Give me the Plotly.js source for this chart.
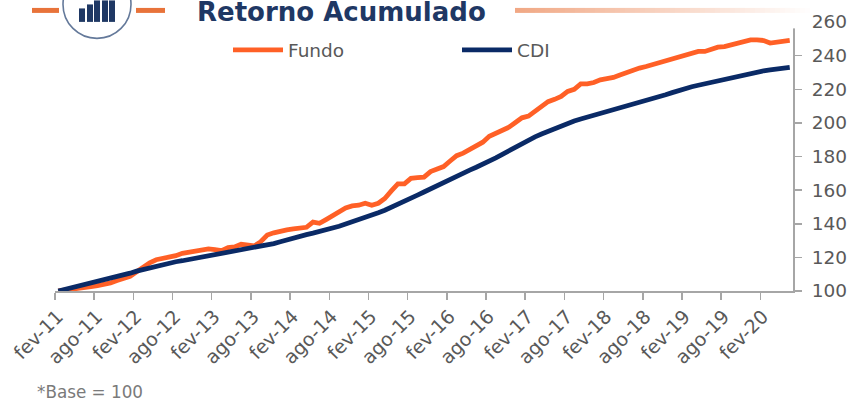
<!DOCTYPE html>
<html>
<head>
<meta charset="utf-8">
<script src="https://cdn.plot.ly/plotly-3.0.1.min.js"></script>
<style>html,body{margin:0;padding:0;background:#fff}#c{width:851px;height:401px}</style>
</head>
<body>
<div id="c"></div>
<script>
const tickLabels = ["fev-11","ago-11","fev-12","ago-12","fev-13","ago-13","fev-14","ago-14","fev-15","ago-15","fev-16","ago-16","fev-17","ago-17","fev-18","ago-18","fev-19","ago-19","fev-20"];
const yTicks = [100,120,140,160,180,200,220,240,260];
const fundo = [100,100.4,100.9,101.4,102,102.6,103.2,103.9,104.8,106.2,107.4,108.8,111.5,
114.5,116.8,118.6,119.2,119.8,121,122.4,123,123.6,124.4,125,124.6,124,125.8,126.2,127.8,127.4,126.8,
129.3,133.3,134.6,135.7,136.4,136.9,137.2,137.9,141,140.3,142.5,144.6,147.2,149.4,150.6,151,152.2,151,
152.2,155,159.5,163.7,163.7,167,167.4,167.7,171,172.5,174,177.3,180.5,182,184,186.4,188.5,192,193.9,195.6,
197.4,200.2,203,204,207,210.5,212.6,214,215.7,218.7,220,223.2,223.2,224,225.6,226.3,227,228.5,230,231.3,
232.6,233.5,234.6,236,237,238.2,239.5,240.6,241.6,242.5,242.5,244,245,245.4,246.5,247.5,248.8,249.4,249.4,
249,247.5,248,248.6,249];
const cdi = [100,100.9,101.8,102.7,103.6,104.5,105.5,106.5,107.4,108.4,109.5,110.6,111.8,
112.8,113.8,114.7,115.6,116.6,117.4,118,118.7,119.3,120,120.7,121.4,
122,122.7,123.3,124,124.7,125.4,126.3,127.2,128.2,129.3,130.5,131.7,
132.6,133.5,134.4,135.3,136.3,137.3,138.5,139.8,141,142.3,143.6,145,
146.5,148,149.7,151.3,153.2,155.3,157,158.9,160.8,162.8,164.9,167,
168.6,170.3,171.9,173.6,175.3,177,179.2,181.3,183.5,185.7,188,190,
191.7,193.4,195,196.7,198.4,200,201.1,202.3,203.4,204.5,205.6,206.7,
207.7,208.7,209.7,210.7,211.7,212.7,214,215.4,216.7,218,219.3,220.6,
221.5,222.4,223.3,224.1,224.9,225.6,226.7,227.7,228.6,229.4,230.2,231,
231.5,232,232.5,233];
const months = fundo.map((_, i) => i);

const W = 851, H = 401, L = 55, R = 793, T = 21.6, B = 291;
const navy = "#1F3864", orange = "#E8733A";
const px = v => (v - L) / (R - L);
const py = v => (B - v) / (B - T);
const rect = (x0, y0, x1, y1, color, opacity) => ({type:"rect", xref:"paper", yref:"paper", layer:"above",
  x0:px(x0), x1:px(x1), y0:py(y0), y1:py(y1), fillcolor:color, opacity:opacity===undefined?1:opacity, line:{width:0}});

const shapes = [
  rect(32, 7.5, 59, 12.5, orange),
  rect(136, 7.5, 165, 12.5, orange),
  {type:"circle", xref:"paper", yref:"paper", layer:"above", x0:px(63), x1:px(131), y0:py(-30), y1:py(38),
   fillcolor:"rgba(0,0,0,0)", line:{color:"#64799A", width:1.6}},
  rect(79, 8, 85, 21.5, navy),
  rect(87, 4, 93, 21.5, navy),
  rect(94, 0, 100, 21.5, navy),
  rect(102, 0, 108, 21.5, navy),
  rect(109, 0, 115, 21.5, navy),
  rect(790, 14, 803, 28, "#ffffff")
];
for (let x = 515; x < 810; x += 5) {
  shapes.push(rect(x, 7.5, x + 5, 12.5, "#E8733A", 0.62 * (1 - (x - 515) / 295)));
}

const data = [
  {x:months, y:fundo, name:"Fundo", type:"scatter", mode:"lines", line:{color:"#FF6026", width:4.8, shape:"linear"}},
  {x:months, y:cdi, name:"CDI", type:"scatter", mode:"lines", line:{color:"#0A2A66", width:4.8, shape:"linear"}}
];

const layout = {
  width:W, height:H, paper_bgcolor:"#fff", plot_bgcolor:"#fff",
  margin:{l:L, r:W-R, t:T, b:H-B, pad:0},
  showlegend:true,
  legend:{orientation:"h", x:px(228), y:py(31), xanchor:"left", yanchor:"top", itemwidth:50, entrywidth:164, entrywidthmode:"pixels",
    font:{family:"DejaVu Sans, Verdana, sans-serif", size:18.5, color:"#595959"}, bgcolor:"rgba(0,0,0,0)", traceorder:"normal"},
  xaxis:{range:[-0.5,112.5], tickmode:"array", tickvals:tickLabels.map((_,k)=>6*k-0.1), ticktext:tickLabels,
    tickangle:-45, ticks:"", showgrid:false, zeroline:false, showline:true, linecolor:"#A6A6A6", linewidth:2,
    ticklabelstandoff:5,
    tickfont:{family:"DejaVu Sans, Verdana, sans-serif", size:19, color:"#595959"},
    minor:{tickmode:"array", tickvals:tickLabels.map((_,k)=>6*k-0.5), ticks:"outside", ticklen:7, tickwidth:1.5, tickcolor:"#A6A6A6", showgrid:false}},
  yaxis:{range:[100,260], side:"right", tickmode:"array", tickvals:yTicks, ticks:"outside", ticklen:7, tickwidth:1.5, tickcolor:"#A6A6A6",
    showgrid:false, zeroline:false, showline:true, linecolor:"#A6A6A6", linewidth:2, ticklabelstandoff:6,
    tickfont:{family:"DejaVu Sans, Verdana, sans-serif", size:18.5, color:"#595959"}},
  shapes:shapes,
  annotations:[
    {xref:"paper", yref:"paper", x:px(196), y:py(28), xanchor:"left", yanchor:"bottom", showarrow:false, text:"<b>Retorno Acumulado</b>",
     font:{family:"DejaVu Sans, Verdana, sans-serif", size:26, color:navy}, borderpad:0},
    {xref:"paper", yref:"paper", x:px(36), y:py(392), xanchor:"left", yanchor:"middle", showarrow:false, text:"*Base = 100",
     font:{family:"DejaVu Sans, Verdana, sans-serif", size:16.8, color:"#7A7A7A"}, borderpad:0}
  ]
};
Plotly.newPlot("c", data, layout, {displayModeBar:false, staticPlot:true});
</script>
</body>
</html>
